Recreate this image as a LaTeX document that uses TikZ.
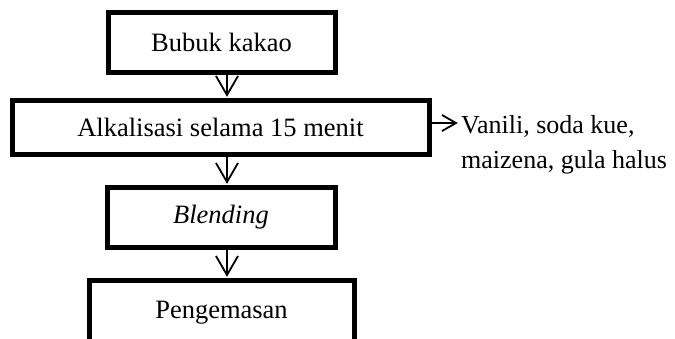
\documentclass[tikz,border=0pt]{standalone}
\usepackage{fontspec}
\setmainfont{Liberation Serif}
\begin{document}
\begin{tikzpicture}[x=1pt,y=-1pt,
  box/.style={draw=black,line width=5pt,rectangle,inner sep=0pt,font=\fontsize{26.5}{34}\selectfont},
  shaft/.style={line width=1.8pt},
  lbl/.style={inner sep=0pt,align=left,font=\fontsize{26}{35}\selectfont}]
\useasboundingbox (0,0) rectangle (675,338);
\clip (0,0) rectangle (675,338);
\node[box,minimum width=227pt,minimum height=60pt] (b1) at (221.5,42) {Bubuk kakao};
\node[box,minimum width=417pt,minimum height=54pt] (b2) at (220.5,127) {Alkalisasi selama 15 menit};
\node[box,minimum width=228pt,minimum height=60pt] (b3) at (221,217) {\itshape Blending};
\node[box,minimum width=265pt,minimum height=66pt] (b4) at (221.5,313) {Pengemasan};
\node[lbl,anchor=west] (side) at (461,145) {Vanili, soda kue,\\maizena, gula halus};
\coordinate (ax) at (227,0);
\coordinate (sy) at (0,123);
\coordinate (se) at (456,123);
\foreach \a/\b in {b1/b2,b2/b3,b3/b4}{
  \draw[shaft] (\a.south -| ax) -- ([yshift=2.5pt]\b.north -| ax);
  \draw[shaft] ([yshift=2.5pt]\b.north -| ax) ++(-11,-19) -- ++(11,19) -- ++(11,-19);
}
\draw[shaft] (b2.east |- sy) -- (se);
\draw[shaft] (se) ++(-14,-8) -- ++(14,8) -- ++(-14,8);
\end{tikzpicture}
\end{document}
